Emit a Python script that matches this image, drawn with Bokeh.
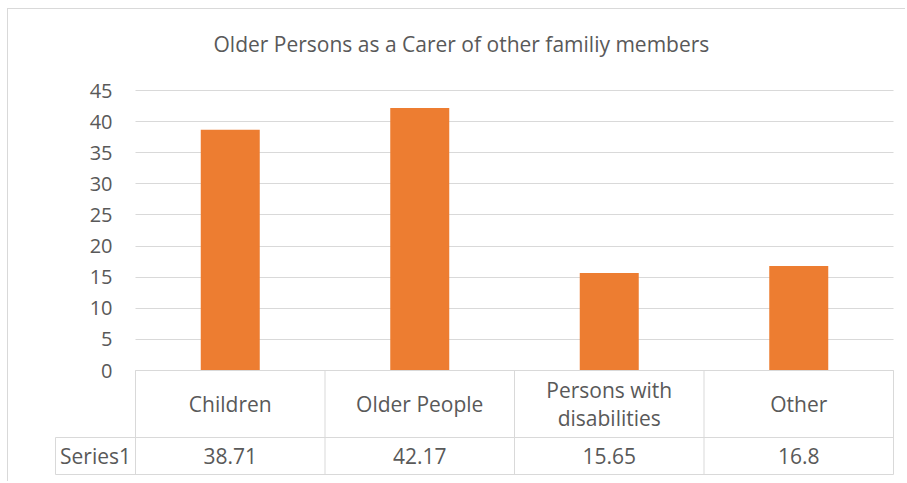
from bokeh.plotting import figure
from bokeh.models import Range1d, FixedTicker
from bokeh.embed import file_html
from bokeh.resources import INLINE
from bokeh.core.properties import value

# ---- data ----
title_text = "Older Persons as a Carer of other familiy members"
categories = ["Children", "Older People", "Persons with disabilities", "Other"]
category_labels = ["Children", "Older People", "Persons with\ndisabilities", "Other"]
values = [38.71, 42.17, 15.65, 16.8]
value_labels = ["38.71", "42.17", "15.65", "16.8"]
series_name = "Series1"
y_ticks = [0, 5, 10, 15, 20, 25, 30, 35, 40, 45]

# ---- style ----
FONT = "Open Sans"
TEXT = "#595959"
GRID = "#d9d9d9"
BAR = "#ED7D31"

PXX = 189.5          # pixels per category column
PXY = 280.0 / 45.0   # pixels per y unit

n = len(categories)
HEADER_LEFT = -80.0 / PXX
ROW1_BOTTOM = -67.0 / PXY
ROW2_BOTTOM = -104.0 / PXY

x_start = -81.0 / PXX
x_end = n + 2.0 / PXX
y_end = 45 + 20.0 / PXY
y_start = y_end - 405.0 / PXY

p = figure(width=898, height=473, output_backend="svg", toolbar_location=None,
           x_range=Range1d(x_start, x_end), y_range=Range1d(y_start, y_end),
           x_axis_location=None, y_axis_location="left",
           min_border_left=46, min_border_right=11, min_border_top=61,
           min_border_bottom=7, title=title_text)
p.outline_line_color = None
p.background_fill_color = "white"
p.border_fill_color = "white"
p.styles = {"margin-left": "7px", "margin-top": "8px",
            "border-left": "1px solid #d9d9d9", "border-top": "1px solid #d9d9d9"}

p.title.text_font = FONT
p.title.text_font_size = "21px"
p.title.text_font_style = "normal"
p.title.text_color = TEXT
p.title.align = "left"
p.title.offset = 159
p.title.standoff = 26

ax = p.yaxis[0]
ax.fixed_location = 0
ax.ticker = FixedTicker(ticks=y_ticks)
ax.axis_line_color = None
ax.major_tick_line_color = None
ax.minor_tick_line_color = None
ax.major_tick_out = 0
ax.major_tick_in = 0
ax.major_label_standoff = 23
ax.major_label_text_font = FONT
ax.major_label_text_font_size = "20px"
ax.major_label_text_color = TEXT

p.xgrid.visible = False
for g in p.grid:
    if g.dimension == 0:
        g.visible = False
p.ygrid.ticker = FixedTicker(ticks=y_ticks)
p.ygrid.grid_line_color = GRID
p.ygrid.grid_line_width = 1
try:
    p.ygrid.cross_bounds = (0, n)
except Exception:
    p.ygrid.grid_line_color = None
    p.segment(x0=[0] * len(y_ticks), x1=[n] * len(y_ticks), y0=y_ticks, y1=y_ticks,
              line_color=GRID, line_width=1)

xs = [i + 0.5 for i in range(n)]
p.vbar(x=xs, top=values, bottom=0, width=59.0 / PXX, fill_color=BAR, line_color=None)

# data table grid
sx0, sx1, sy0, sy1 = [], [], [], []
for yy, xl in [(0, 0), (ROW1_BOTTOM, HEADER_LEFT), (ROW2_BOTTOM, HEADER_LEFT)]:
    sx0.append(xl); sx1.append(n); sy0.append(yy); sy1.append(yy)
for i in range(n + 1):
    sx0.append(i); sx1.append(i); sy0.append(0); sy1.append(ROW2_BOTTOM)
sx0.append(HEADER_LEFT); sx1.append(HEADER_LEFT); sy0.append(ROW1_BOTTOM); sy1.append(ROW2_BOTTOM)
p.segment(x0=sx0, x1=sx1, y0=sy0, y1=sy1, line_color=GRID, line_width=1)

p.text(x=xs, y=[ROW1_BOTTOM / 2] * n, text=category_labels,
       text_font=value(FONT), text_font_size="21px", text_color=TEXT,
       text_align="center", text_baseline="middle", text_line_height=1.0)
p.text(x=xs, y=[(ROW1_BOTTOM + ROW2_BOTTOM) / 2] * n, text=value_labels,
       text_font=value(FONT), text_font_size="21px", text_color=TEXT,
       text_align="center", text_baseline="middle")
p.text(x=[(HEADER_LEFT) / 2], y=[(ROW1_BOTTOM + ROW2_BOTTOM) / 2], text=[series_name],
       text_font=value(FONT), text_font_size="21px", text_color=TEXT,
       text_align="center", text_baseline="middle")

open("out.html", "w").write(file_html(p, INLINE))
